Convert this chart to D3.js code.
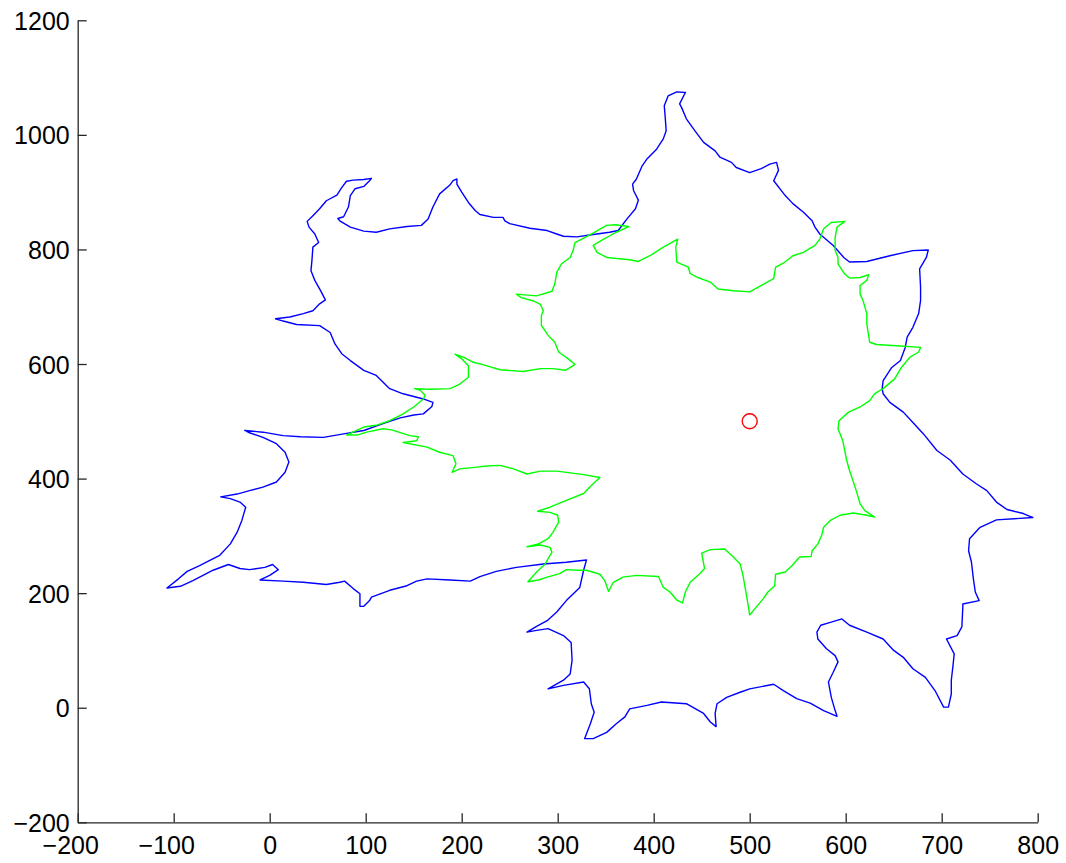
<!DOCTYPE html>
<html>
<head>
<meta charset="utf-8">
<script src="https://cdn.jsdelivr.net/npm/d3@7"></script>
<style>
  html, body { margin: 0; padding: 0; background: #fff; }
  svg { display: block; }
  .tick-label { font-family: "Liberation Sans", Arial, Helvetica, sans-serif; font-size: 25px; fill: #000; }
</style>
</head>
<body>
<svg id="chart" width="1066" height="863"></svg>
<script>
// Outer (blue) contour, data units [x, y]
const blueOutline = [
  [433,1074],[424,1075],[415,1068],[411,1051],[412,1031],[413,1007],[410,993],[403,975],[393,958],[388,946],
  [382,923],[378,914],[379,903],[384,886],[381,871],[372,853],[363,833],[354,830],[337,826],[320,822],
  [306,823],[299,827],[289,833],[271,837],[250,845],[245,850],[243,856],[233,856],[219,861],[214,868],
  [207,882],[200,900],[195,914],[195,923],[191,920],[188,913],[177,897],[170,874],[165,853],[158,842],
  [143,840],[125,836],[111,830],[98,832],[84,839],[73,850],[71,854],[77,857],[82,874],[84,894],
  [89,906],[98,910],[104,920],[106,924],[98,922],[87,921],[80,919],[75,908],[70,895],[59,885],
  [52,871],[45,859],[39,849],[41,839],[47,827],[51,812],[45,804],[44,781],[43,763],[47,746],
  [53,728],[58,712],[52,705],[45,693],[35,688],[21,682],[6,679],[14,675],[28,669],[52,667],
  [63,655],[68,635],[75,618],[84,606],[98,589],[111,580],[125,557],[139,548],[160,539],[170,533],
  [169,526],[160,513],[150,511],[136,506],[118,496],[98,484],[77,478],[56,472],[32,473],[14,475],
  [-7,481],[-26,484],[-21,480],[-7,472],[7,461],[16,446],[20,429],[16,411],[7,394],[-7,385],
  [-21,379],[-34,373],[-51,368],[-41,365],[-31,359],[-25,350],[-29,327],[-34,306],[-41,286],[-52,266],
  [-66,254],[-73,248],[-86,238],[-95,225],[-107,209],[-93,212],[-80,222],[-59,240],[-43,250],[-31,243],
  [-21,241],[-5,245],[3,250],[9,241],[0,231],[-10,223],[14,221],[35,219],[59,215],[73,219],
  [78,221],[87,208],[94,199],[94,177],[98,177],[104,187],[106,193],[125,205],[143,213],[153,221],
  [164,225],[188,223],[209,221],[219,229],[236,238],[257,245],[285,251],[309,254],[330,258],[327,240],
  [323,210],[309,187],[299,167],[289,152],[278,142],[268,132],[278,135],[290,138],[306,126],[314,114],
  [315,83],[313,59],[306,48],[290,33],[306,39],[327,45],[333,33],[335,7],[338,-8],[334,-28],
  [328,-54],[337,-54],[351,-43],[361,-28],[370,-16],[375,-2],[393,4],[408,10],[434,7],[452,-10],
  [459,-25],[465,-33],[464,-10],[466,7],[476,18],[490,27],[500,33],[525,41],[535,30],[549,16],
  [563,8],[577,-5],[591,-15],[589,-5],[585,18],[582,45],[587,62],[592,80],[589,91],[580,103],
  [571,120],[570,132],[574,144],[584,149],[596,155],[604,144],[622,132],[639,120],[650,100],[660,88],
  [670,68],[683,53],[693,30],[702,1],[707,1],[710,24],[710,48],[712,77],[713,94],[705,120],
  [716,126],[721,141],[722,176],[722,181],[739,187],[735,202],[733,225],[731,254],[728,274],[729,295],
  [740,315],[757,328],[795,332],[785,339],[768,346],[757,359],[747,379],[736,391],[722,408],[709,432],
  [695,449],[681,478],[670,498],[660,516],[646,533],[639,548],[638,557],[639,571],[648,594],[657,606],
  [662,629],[664,647],[670,664],[676,688],[678,711],[678,734],[677,766],[684,786],[686,799],[670,798],
  [646,789],[622,779],[604,778],[598,786],[587,807],[573,827],[568,839],[565,850],[556,865],[545,880],
  [537,894],[525,920],[530,938],[528,952],[521,949],[512,941],[500,934],[486,943],[481,952],[469,961],
  [464,972],[452,987],[443,1007],[434,1028],[429,1048],[427,1054]
];

// Inner (green) contour, data units [x, y]
const greenOutline = [
  [374,840],[360,843],[351,842],[334,826],[318,812],[316,798],[313,786],[304,775],[299,760],[297,740],
  [294,727],[278,719],[257,722],[262,716],[275,710],[282,704],[285,693],[283,685],[283,667],[287,658],
  [290,650],[297,638],[301,621],[311,609],[318,599],[308,589],[295,592],[282,592],[264,587],[240,590],
  [222,599],[212,603],[203,611],[193,617],[200,609],[207,597],[207,577],[198,565],[188,557],[167,556],
  [151,557],[157,554],[162,545],[160,539],[150,525],[139,513],[125,501],[111,493],[98,490],[80,476],
  [91,476],[101,481],[118,487],[127,485],[146,475],[155,473],[153,466],[139,463],[164,455],[177,446],
  [191,440],[194,426],[190,411],[198,417],[216,420],[226,422],[240,423],[254,417],[268,408],[282,413],
  [299,413],[327,407],[344,402],[335,388],[327,374],[309,362],[292,350],[279,343],[292,341],[300,336],
  [301,324],[295,306],[290,295],[280,286],[268,281],[282,284],[292,280],[294,271],[292,266],[287,251],
  [278,237],[269,220],[280,223],[289,228],[302,234],[309,241],[321,240],[330,240],[344,233],[349,222],
  [353,203],[358,219],[368,228],[382,231],[405,229],[410,210],[417,202],[424,188],[430,183],[433,202],
  [438,219],[448,234],[453,243],[450,270],[459,276],[474,277],[483,263],[490,251],[493,231],[497,193],
  [500,162],[507,176],[514,190],[519,202],[526,213],[527,233],[537,237],[544,248],[552,263],[564,264],
  [565,274],[571,286],[575,301],[577,315],[584,327],[594,336],[608,340],[622,336],[630,333],[620,344],
  [615,356],[611,379],[604,414],[601,432],[597,466],[592,487],[593,501],[603,516],[615,525],[625,536],
  [630,548],[639,557],[651,574],[658,594],[667,612],[676,621],[678,629],[653,632],[632,634],[625,638],
  [622,670],[622,688],[618,711],[615,722],[615,737],[622,746],[624,756],[615,751],[604,750],[599,757],
  [592,775],[592,786],[589,798],[589,821],[591,839],[599,849],[585,847],[577,836],[573,818],[568,807],
  [556,795],[545,789],[535,776],[527,769],[525,749],[514,739],[500,726],[483,728],[467,731],[459,743],
  [446,751],[438,758],[436,769],[424,778],[423,804],[425,818],[410,804],[396,789],[384,779],[375,782],
  [351,786],[341,795],[337,807],[347,817],[361,830]
];

const centrePoint = [500, 500];

const xDomain = [-200, 800];
const yDomain = [-200, 1200];
const xTickValues = [-200, -100, 0, 100, 200, 300, 400, 500, 600, 700, 800];
const yTickValues = [-200, 0, 200, 400, 600, 800, 1000, 1200];

(function () {
  const LEFT = 77.7, TOP = 20.3, PLOT_W = 960, PLOT_H = 802;
  const TICK = 9;
  const AXIS_COLOR = '#262626';

  const svg = d3.select('#chart');
  const x = d3.scaleLinear().domain(xDomain).range([LEFT, LEFT + PLOT_W]);
  const y = d3.scaleLinear().domain(yDomain).range([TOP + PLOT_H, TOP]);

  const line = d3.line().x((d) => x(d[0])).y((d) => y(d[1])).curve(d3.curveLinearClosed);

  const gData = svg.append('g');
  gData.append('path').attr('d', line(blueOutline))
    .attr('fill', 'none').attr('stroke', '#0000ff').attr('stroke-width', 1.4).attr('stroke-linejoin', 'round');
  gData.append('path').attr('d', line(greenOutline))
    .attr('fill', 'none').attr('stroke', '#00ff00').attr('stroke-width', 1.4).attr('stroke-linejoin', 'round');
  gData.append('circle').attr('cx', x(centrePoint[0])).attr('cy', y(centrePoint[1])).attr('r', 7.5)
    .attr('fill', 'none').attr('stroke', '#ff0000').attr('stroke-width', 1.4);

  // minus sign like MATLAB: number centred, minus hangs to the left
  const fmt = (v) => (v < 0 ? '\u2212' + Math.abs(v) : String(v));

  // bottom axis, ticks pointing inward
  const xAxis = d3.axisBottom(x).tickValues(xTickValues).tickSizeInner(-TICK).tickSizeOuter(0).tickFormat(fmt);
  const gx = svg.append('g').attr('transform', `translate(0,${TOP + PLOT_H})`).call(xAxis);
  gx.select('.domain').attr('stroke', AXIS_COLOR).attr('stroke-width', 1.3);
  gx.selectAll('.tick line').attr('stroke', AXIS_COLOR).attr('stroke-width', 1.3);
  gx.selectAll('.tick text').attr('class', 'tick-label').attr('font-size', null).attr('font-family', null)
    .attr('y', 0).attr('dy', 32)
    .attr('dx', (d) => (d < 0 ? -7.5 : 0));

  // left axis, ticks pointing inward
  const yAxis = d3.axisLeft(y).tickValues(yTickValues).tickSizeInner(-TICK).tickSizeOuter(0).tickFormat(fmt);
  const gy = svg.append('g').attr('transform', `translate(${LEFT},0)`).call(yAxis);
  gy.select('.domain').attr('stroke', AXIS_COLOR).attr('stroke-width', 1.3);
  gy.selectAll('.tick line').attr('stroke', AXIS_COLOR).attr('stroke-width', 1.3);
  gy.selectAll('.tick text').attr('class', 'tick-label').attr('font-size', null).attr('font-family', null)
    .attr('x', -8).attr('dy', '0.36em');
  svg.selectAll('.tick text').attr('fill', '#000');
})();
</script>
</body>
</html>
